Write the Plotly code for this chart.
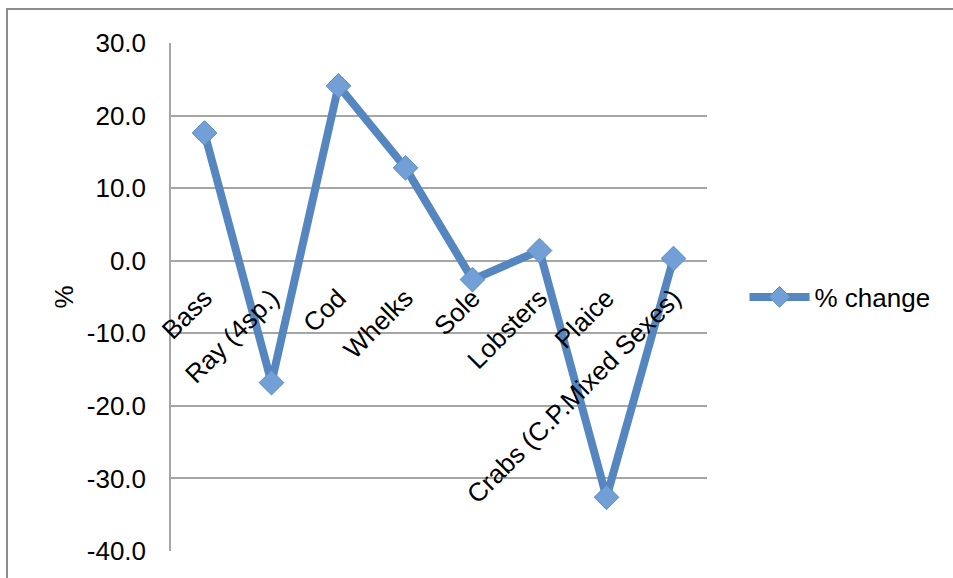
import plotly.graph_objects as go

categories = ["Bass", "Ray (4sp.)", "Cod", "Whelks", "Sole", "Lobsters", "Plaice",
              "Crabs (C.P.Mixed Sexes)"]
pct_change = [17.6, -16.8, 24.1, 12.8, -2.6, 1.4, -32.6, 0.3]
y_ticks = [-40, -30, -20, -10, 0, 10, 20, 30]
y_tick_text = [f"{v:.1f}" for v in y_ticks]
y_min, y_max = -40, 30

FONT = "Liberation Sans, Arial, Helvetica, sans-serif"
LINE_COLOR = "#5586BF"
GRID = "#A6A6A6"
FS = 26

fig = go.Figure()
fig.add_trace(go.Scatter(
    x=categories, y=pct_change, mode="lines+markers", name="% change",
    line=dict(color=LINE_COLOR, width=8),
    marker=dict(symbol="diamond", size=19, color="#729FD6",
                line=dict(color="#5B8CC6", width=1)),
))

fig.update_layout(
    width=953, height=578,
    margin=dict(l=171, r=246, t=43, b=27),
    paper_bgcolor="white", plot_bgcolor="white",
    font=dict(family=FONT, size=FS, color="#000000"),
    showlegend=True,
    legend=dict(x=1.07, y=0.5, xanchor="left", yanchor="middle",
                font=dict(size=FS), itemwidth=60, bgcolor="rgba(0,0,0,0)"),
    xaxis=dict(
        type="category", anchor="free",
        position=(0 - y_min) / (y_max - y_min),
        tickangle=-45, showgrid=False, showline=False, zeroline=False,
        ticks="", ticklabelstandoff=16,
        tickfont=dict(size=FS, family=FONT),
        range=[-0.5, len(categories) - 0.5],
    ),
    yaxis=dict(
        range=[y_min, y_max], tickvals=y_ticks, ticktext=y_tick_text,
        showgrid=True, gridcolor=GRID, gridwidth=1.5,
        showline=True, linecolor=GRID, linewidth=1.5,
        zeroline=False, ticks="", ticklabelstandoff=18,
        tickfont=dict(size=FS, family=FONT),
        title=dict(text="%", font=dict(size=FS), standoff=6),
    ),
    shapes=[dict(type="rect", xref="paper", yref="paper",
                 x0=(7 - 171) / 536, x1=(980 - 171) / 536,
                 y0=-(600 - 551) / 508, y1=1 + (43 - 9) / 508,
                 line=dict(color="#8C8C8C", width=2), layer="below")],
)

fig.write_html("out.html")
